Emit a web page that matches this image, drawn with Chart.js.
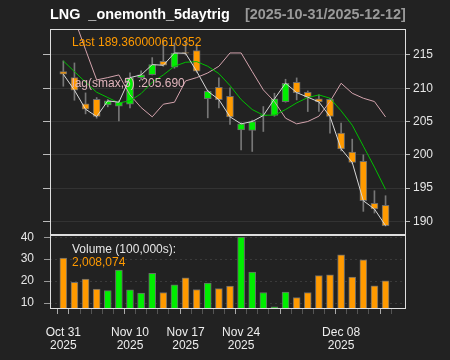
<!DOCTYPE html>
<html>
<head>
<meta charset="utf-8">
<script src="https://cdn.jsdelivr.net/npm/chart.js@4/dist/chart.umd.min.js"></script>
<style>
  body { margin: 0; background: #222222; width: 450px; height: 360px; overflow: hidden; }
  canvas { position: absolute; left: 0; top: 0; }
  .txt { position: absolute; white-space: pre; line-height: 12px; font-family: "Liberation Sans", Arial, sans-serif; font-size: 12px; }
  .ttl { font-weight: bold; font-size: 14.4px; line-height: 15px; }
</style>
</head>
<body>
<canvas id="price" width="450" height="360"></canvas>
<canvas id="volume" width="450" height="360"></canvas>
<div class="txt ttl" style="left:50px; top:7px; color:#ffffff;">LNG  _onemonth_5daytrig</div>
<div class="txt ttl" style="left:245px; top:7px; color:#9a9a9a;">[2025-10-31/2025-12-12]</div>
<div class="txt" style="left:72px; top:36px; color:#ff9a00;">Last 189.360000610352</div>
<div class="txt" style="left:72px; top:77px; color:#e0b4bc;">lag(smax,5) :205.690</div>
<div class="txt" style="left:72px; top:243px; color:#e6e6e6;">Volume (100,000s):</div>
<div class="txt" style="left:72px; top:256px; color:#ff9a00;">2,008,074</div>
<script>
// trading days
var dates = ['2025-10-31',
    '2025-11-03', '2025-11-04', '2025-11-05', '2025-11-06', '2025-11-07',
    '2025-11-10', '2025-11-11', '2025-11-12', '2025-11-13', '2025-11-14',
    '2025-11-17', '2025-11-18', '2025-11-19', '2025-11-20', '2025-11-21',
    '2025-11-24', '2025-11-25', '2025-11-26', '2025-11-28',
    '2025-12-01', '2025-12-02', '2025-12-03', '2025-12-04', '2025-12-05',
    '2025-12-08', '2025-12-09', '2025-12-10', '2025-12-11', '2025-12-12'];

var open = [212.5, 211.6, 207.65, 208.35, 207.5, 207.3, 207.6, 211.6, 212.05, 214.05,
    213.15, 215.35, 215.65, 208.45, 210.15, 208.8, 203.75, 203.65, 205.85, 205.9,
    208.0, 210.9, 209.4, 208.4, 208.35, 203.25, 200.4, 199.0, 192.7, 192.4];
var high = [214.1, 213.8, 209.3, 208.6, 208.3, 208.1, 212.3, 212.6, 214.6, 217.1,
    216.8, 217.1, 216.55, 209.7, 211.55, 210.05, 204.8, 205.2, 207.25, 209.25,
    211.35, 211.55, 209.6, 209.0, 208.5, 204.75, 202.35, 200.0, 194.6, 193.85];
var low = [210.3, 208.2, 206.15, 205.5, 207.2, 205.1, 207.05, 211.3, 212.0, 213.3,
    213.0, 215.0, 212.4, 205.55, 207.05, 204.55, 200.75, 200.5, 203.5, 205.8,
    207.9, 208.25, 206.5, 206.5, 203.25, 200.6, 198.7, 191.5, 191.25, 189.3];
var close = [212.1, 209.7, 206.85, 205.75, 208.1, 207.9, 211.6, 212.0, 213.55, 213.45,
    215.3, 215.25, 212.55, 209.55, 208.3, 205.7, 204.65, 205.0, 205.9, 208.4,
    210.75, 209.35, 208.65, 207.95, 205.75, 200.9, 198.85, 193.1, 191.85, 189.36];

// 5 day moving average (green) and lag(smax,5) (pink)
var sma5 = [214.1, 212.5, 210.9, 209.4, 208.6, 207.8, 208.1, 209.2, 210.9, 212.0,
    213.3, 213.9, 214.0, 213.3, 212.2, 210.4, 208.3, 206.8, 205.95, 205.95,
    206.8, 207.8, 208.6, 209.0, 208.5, 206.6, 204.45, 201.3, 198.15, 194.8];
var lagSmax = [222.5, 220.4, 215.8, 211.25, 211.6, 212.0, 209.0, 207.1, 205.7, 207.6,
    207.9, 211.1, 211.6, 212.3, 213.3, 215.3, 215.3, 212.5, 209.75, 208.0,
    205.5, 204.65, 205.0, 205.8, 208.0, 210.75, 209.25, 208.5, 208.0, 205.69];

// volume in 100,000s
var volume = [30.45, 19.4, 20.9, 16.4, 15.7, 25.0, 16.0, 14.5, 23.6, 14.8,
    18.3, 21.5, 16.2, 19.1, 16.6, 17.7, 40.0, 24.1, 14.8, 8.3,
    15.0, 12.5, 14.8, 22.5, 22.9, 32.0, 21.8, 29.7, 17.9, 20.08];

var priceTicks = [190, 195, 200, 205, 210, 215];
var volumeTicks = [10, 15, 20, 25, 30, 35, 40];
var xLabelDates = ['2025-10-31', '2025-11-10', '2025-11-17', '2025-11-24', '2025-12-08'];
var xLabels = ['Oct 31', 'Nov 10', 'Nov 17', 'Nov 24', 'Dec 08'];
var xMajorDates = ['2025-10-31', '2025-11-03', '2025-11-10', '2025-11-17', '2025-11-24', '2025-12-01', '2025-12-08', '2025-12-12'];

var UP = '#00ee00';
var DOWN = '#ff9a00';
var XMIN = -1.2, XMAX = 30.84;

Chart.defaults.font.family = '"Liberation Sans", Arial, sans-serif';
Chart.defaults.font.size = 12;

var isUp = close.map((c, i) => c >= open[i]);
var candleColors = isUp.map(u => u ? UP : DOWN);

var frame = {
    id: 'frame',
    afterDraw: function (chart) {
        var a = chart.chartArea, ctx = chart.ctx;
        ctx.save();
        ctx.strokeStyle = '#dedede';
        ctx.lineWidth = 1;
        ctx.strokeRect(Math.round(a.left) + 0.5, Math.round(a.top) + 0.5,
            Math.round(a.right - a.left) - 1, Math.round(a.bottom - a.top) - 1);
        ctx.restore();
    }
};

new Chart(document.getElementById('price'), {
    type: 'bar',
    data: {
        datasets: [{
            type: 'line',
            data: close.map((v, i) => ({ x: i, y: v })),
            borderColor: '#d8d8d8',
            borderWidth: 1,
            pointRadius: 0,
            order: 0
        }, {
            type: 'line',
            data: sma5.map((v, i) => ({ x: i, y: v })),
            borderColor: '#00c000',
            borderWidth: 1,
            pointRadius: 0,
            order: 0
        }, {
            type: 'line',
            data: lagSmax.map((v, i) => ({ x: i, y: v })),
            borderColor: '#d4a4ae',
            borderWidth: 1,
            pointRadius: 0,
            order: 0
        }, {
            data: open.map((o, i) => ({ x: i, y: [o, close[i]] })),
            backgroundColor: candleColors,
            borderColor: '#6a6a6a',
            borderWidth: 1,
            borderSkipped: false,
            barThickness: 7,
            grouped: false,
            order: 1
        }, {
            data: low.map((l, i) => ({ x: i, y: [l, high[i]] })),
            backgroundColor: '#777777',
            barThickness: 1,
            grouped: false,
            order: 2
        }]
    },
    options: {
        responsive: false,
        animation: false,
        layout: { padding: { top: 29, bottom: 125, left: 0, right: 0 } },
        plugins: { legend: { display: false }, tooltip: { enabled: false } },
        scales: {
            x: { type: 'linear', min: XMIN, max: XMAX, offset: false, display: false },
            y: {
                position: 'right',
                min: 187.95, max: 218.9,
                afterBuildTicks: s => { s.ticks = priceTicks.map(v => ({ value: v })); },
                afterFit: s => { s.width = 44; },
                grid: { color: '#333333', tickColor: '#bbbbbb', tickLength: 4 },
                border: { display: false },
                ticks: { color: '#e6e6e6', padding: 3 }
            },
            yl: {
                position: 'left',
                min: 187.95, max: 218.9,
                afterBuildTicks: s => { s.ticks = priceTicks.map(v => ({ value: v })); },
                afterFit: s => { s.width = 50; },
                grid: { drawOnChartArea: false, tickColor: '#bbbbbb', tickLength: 7 },
                border: { display: false },
                ticks: { callback: () => '', padding: 0 }
            }
        }
    },
    plugins: [frame]
});

new Chart(document.getElementById('volume'), {
    type: 'bar',
    data: {
        datasets: [{
            data: volume.map((v, i) => ({ x: i, y: v })),
            backgroundColor: candleColors,
            borderColor: '#6a6a6a',
            borderWidth: 1,
            borderSkipped: false,
            barThickness: 7
        }]
    },
    options: {
        responsive: false,
        animation: false,
        layout: { padding: { top: 235, bottom: 0, left: 0, right: 44 } },
        plugins: { legend: { display: false }, tooltip: { enabled: false } },
        scales: {
            x: {
                type: 'linear', min: XMIN, max: XMAX, offset: false,
                afterBuildTicks: s => { s.ticks = dates.map((d, i) => ({ value: i })); },
                afterFit: s => { s.height = 51; },
                grid: {
                    drawOnChartArea: false,
                    tickLength: 5,
                    tickColor: ctx => (ctx.tick && xMajorDates.includes(dates[ctx.tick.value])) ? '#aaaaaa' : '#555555'
                },
                border: { display: false },
                ticks: {
                    autoSkip: false,
                    maxRotation: 0,
                    color: '#eeeeee',
                    padding: 12,
                    font: { lineHeight: 1.1 },
                    callback: v => {
                        var k = xLabelDates.indexOf(dates[v]);
                        return k < 0 ? '' : [xLabels[k], dates[v].slice(0, 4)];
                    }
                }
            },
            y: {
                position: 'left',
                min: 7.3, max: 41.0,
                afterBuildTicks: s => { s.ticks = volumeTicks.map(v => ({ value: v })); },
                afterFit: s => { s.width = 50; },
                grid: { color: '#3a3a3a', tickColor: '#999999', tickLength: 6 },
                border: { display: false, dash: [2, 3] },
                ticks: { color: '#e6e6e6', padding: 10, callback: v => v % 10 === 0 ? v : '' }
            }
        }
    },
    plugins: [frame]
});
</script>
</body>
</html>
